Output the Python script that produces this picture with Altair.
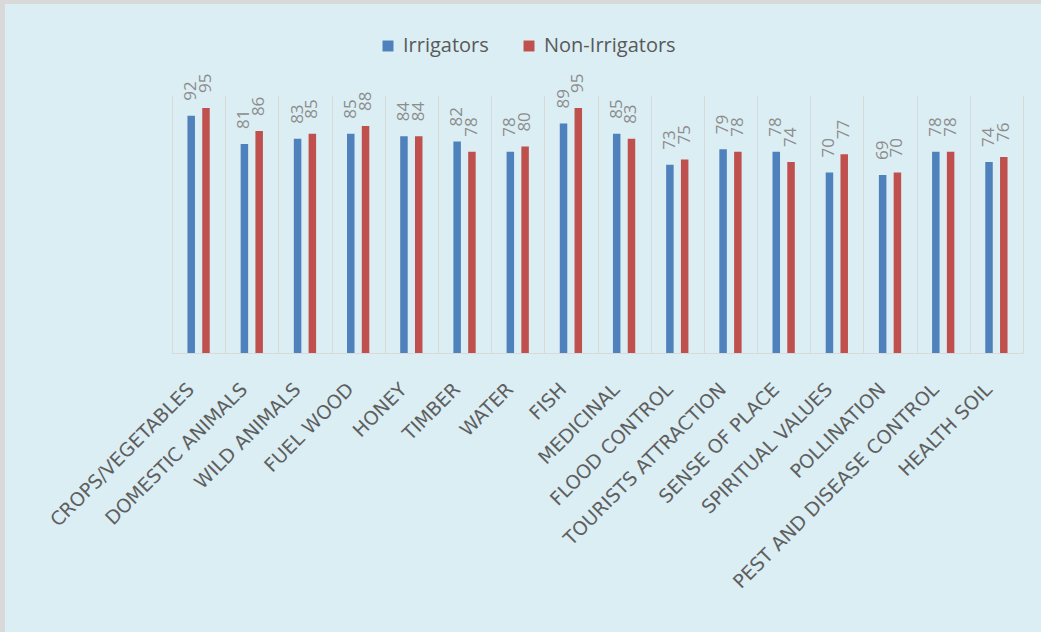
import altair as alt
import pandas as pd

categories = ["CROPS/VEGETABLES", "DOMESTIC ANIMALS", "WILD ANIMALS", "FUEL WOOD", "HONEY",
              "TIMBER", "WATER", "FISH", "MEDICINAL", "FLOOD CONTROL", "TOURISTS ATTRACTION",
              "SENSE OF PLACE", "SPIRITUAL VALUES", "POLLINATION", "PEST AND DISEASE CONTROL",
              "HEALTH SOIL"]
irrigators = [92, 81, 83, 85, 84, 82, 78, 89, 85, 73, 79, 78, 70, 69, 78, 74]
non_irrigators = [95, 86, 85, 88, 84, 78, 80, 95, 83, 75, 78, 74, 77, 70, 78, 76]
groups = ["Irrigators", "Non-Irrigators"]
colors = ["#4F81BD", "#C0504D"]

rows = []
for c, a, b in zip(categories, irrigators, non_irrigators):
    rows.append({"category": c, "group": groups[0], "value": a})
    rows.append({"category": c, "group": groups[1], "value": b})
df = pd.DataFrame(rows)

W, H = 851, 258
PL, PT = 172, 95

base = alt.Chart(df).encode(
    x=alt.X("category:N", sort=categories,
            scale=alt.Scale(paddingInner=0, paddingOuter=0),
            axis=alt.Axis(title=None, labelAngle=315, labelAlign="right", labelBaseline="middle",
                          labelPadding=33, labelOffset=-8, labelFont="DejaVu Sans",
                          labelFontSize=19, labelColor="#5F5F5F", ticks=False, grid=True,
                          gridColor="#D9D9D9", tickBand="extent", domainColor="#D9D9D9",
                          labelLimit=400)),
    xOffset=alt.XOffset("group:N", sort=groups,
                        scale=alt.Scale(paddingInner=0, paddingOuter=0.8)),
    y=alt.Y("value:Q", scale=alt.Scale(domain=[0, 100]), axis=None),
)

bars = base.mark_bar(width=7.5).encode(
    color=alt.Color("group:N", sort=groups,
                    scale=alt.Scale(domain=groups, range=colors),
                    legend=alt.Legend(title=None, orient="none", direction="horizontal",
                                      legendX=206, legendY=-59, symbolType="square",
                                      symbolSize=120, symbolStrokeWidth=0,
                                      labelFont="Open Sans", labelFontSize=20,
                                      labelColor="#595959", columnPadding=30, labelOffset=5))
)

labels = base.mark_text(angle=270, align="left", baseline="middle", dx=15,
                        font="Open Sans", fontSize=17, color="#8C8C8C").encode(
    text=alt.Text("value:Q")
)

frame_df = pd.DataFrame({"a": [0]})
top_border = alt.Chart(frame_df).mark_rule(color="#D9D9D9", strokeWidth=4).encode(
    x=alt.value(-PL), x2=alt.value(1041 - PL), y=alt.value(-PT + 2))
left_border = alt.Chart(frame_df).mark_rule(color="#D9D9D9", strokeWidth=5).encode(
    x=alt.value(-PL + 2.5), y=alt.value(-PT), y2=alt.value(632 - PT))

chart = alt.layer(bars, labels, top_border, left_border).properties(
    width=W, height=H,
    autosize=alt.AutoSizeParams(type="none"),
    padding={"left": PL, "top": PT, "right": 1041 - PL - W, "bottom": 632 - PT - H},
    background="#DBEEF4",
).configure_view(stroke=None)

chart.save("out.html", embed_options={"renderer": "svg", "actions": False})
